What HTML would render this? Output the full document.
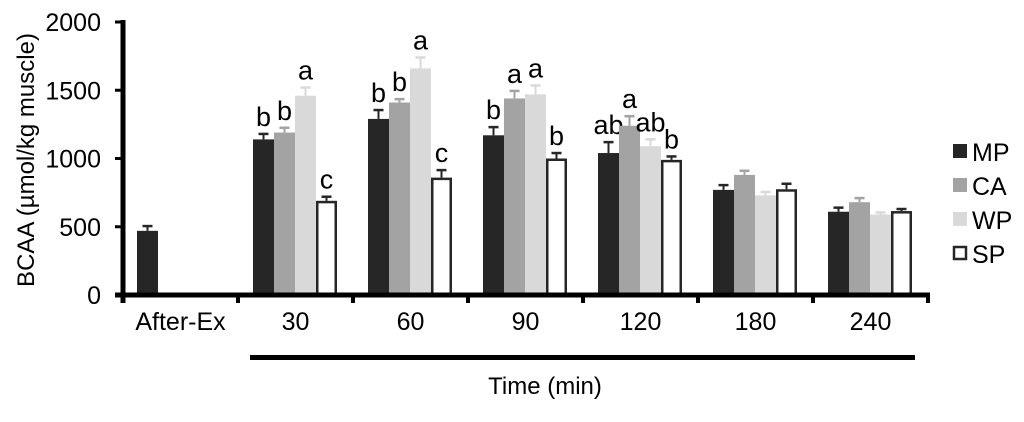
<!DOCTYPE html>
<html><head><meta charset="utf-8"><style>
body{margin:0;background:#fff;}
svg text{font-family:"Liberation Sans",Arial,sans-serif;}
</style></head><body>
<svg id="c" width="1024" height="417" viewBox="0 0 1024 417" xmlns="http://www.w3.org/2000/svg"></svg>
<script>
const categories=["After-Ex","30","60","90","120","180","240"];
const seriesNames=["MP","CA","WP","SP"];
const mp=[470,1140,1290,1170,1040,770,610];
const ca=[null,1190,1410,1440,1240,880,680];
const wp=[null,1460,1660,1470,1090,730,590];
const sp=[null,690,860,1000,990,775,615];
const mpErr=[35,40,65,60,80,35,30];
const caErr=[null,35,25,55,70,30,30];
const wpErr=[null,60,80,65,50,25,15];
const spErr=[null,30,55,40,25,40,15];
const mpLab=["","b","b","b","ab","",""];
const caLab=["","b","b","a","a","",""];
const wpLab=["","a","a","a","ab","",""];
const spLab=["","c","c","b","b","",""];
const yTicks=[0,500,1000,1500,2000];
const fills=["#262626","#a3a3a3","#d9d9d9","#ffffff"];
const errCol=["#262626","#a3a3a3","#d9d9d9","#262626"];
const NS="http://www.w3.org/2000/svg";
const svg=document.getElementById('c');
const x0=123,groupW=115,barW=21,y0=295,yTop=22;
const y=v=>y0-(v/2000)*(y0-yTop);
function mk(t,a,parent){const e=document.createElementNS(NS,t);for(const k in a)e.setAttribute(k,a[k]);(parent||svg).appendChild(e);return e;}
const series=[mp,ca,wp,sp],errs=[mpErr,caErr,wpErr,spErr],labs=[mpLab,caLab,wpLab,spLab];
categories.forEach((c,i)=>{
  series.forEach((s,j)=>{
    const v=s[i]; if(v==null) return;
    const bx=x0+i*groupW+(i===0?14:15)+j*barW;
    const isSP=j===3;
    const r=mk('rect',{x:bx+(isSP?1.25:0),y:y(v)+(isSP?1.25:0),width:barW-(isSP?2.5:0),height:y0-y(v)-(isSP?1.25:0),fill:fills[j],stroke:isSP?'#262626':'none','stroke-width':isSP?2.5:0});
    
    
    const e=errs[j][i]; const cx=bx+barW/2;
    const l=mk('line',{x1:cx,x2:cx,y1:y(v),y2:y(v+e),stroke:errCol[j],'stroke-width':2});
    
    
    const cap=mk('line',{x1:cx-5,x2:cx+5,y1:y(v+e),y2:y(v+e),stroke:errCol[j],'stroke-width':2.5});
    
    
    const lb=labs[j][i];
    if(lb){const t=mk('text',{x:cx,y:y(v+e)-8,'text-anchor':'middle','font-size':27,fill:'#000'});t.textContent=lb;
      
      }
  });
  const tl=mk('text',{x:x0+i*groupW+groupW/2,y:330,'text-anchor':'middle','font-size':25,fill:'#000'});
  tl.textContent=c;
  
  
  const tk=mk('line',{x1:x0+(i+1)*groupW,x2:x0+(i+1)*groupW,y1:y0,y2:y0+8,stroke:'#000','stroke-width':4});
  
  
});
const ya=mk('line',{x1:x0,x2:x0,y1:yTop-2,y2:y0+8,stroke:'#000','stroke-width':5});


const xa=mk('line',{x1:x0-8,x2:x0+7*groupW+2,y1:y0,y2:y0,stroke:'#000','stroke-width':5});


yTicks.forEach(v=>{
  const t=mk('line',{x1:x0-8,x2:x0,y1:y(v),y2:y(v),stroke:'#000','stroke-width':3});
  
  
  const l=mk('text',{x:x0-22,y:y(v)+9,'text-anchor':'end','font-size':25,fill:'#000'});
  l.textContent=v;
  
  
});
const yt=mk('text',{x:0,y:0,transform:'translate(34,160) rotate(-90)','text-anchor':'middle','font-size':24,fill:'#000'});
yt.textContent='BCAA (\u00b5mol/kg  muscle)';


const br=mk('rect',{x:250,y:355,width:665,height:5,fill:'#000'});


const xt=mk('text',{x:545,y:394,'text-anchor':'middle','font-size':24,fill:'#000'});
xt.textContent='Time (min)';


seriesNames.forEach((n,j)=>{
  const ly=152+j*34;
  const r=mk('rect',{x:953+(j===3?1:0),y:ly-8+(j===3?1:0),width:j===3?12:14,height:j===3?12:14,fill:fills[j],stroke:j===3?'#262626':'none','stroke-width':2.5});
  
  
  const t=mk('text',{x:972,y:ly+9,'font-size':25,fill:'#000'});
  t.textContent=n;
  
  
});
</script>
</body></html>
